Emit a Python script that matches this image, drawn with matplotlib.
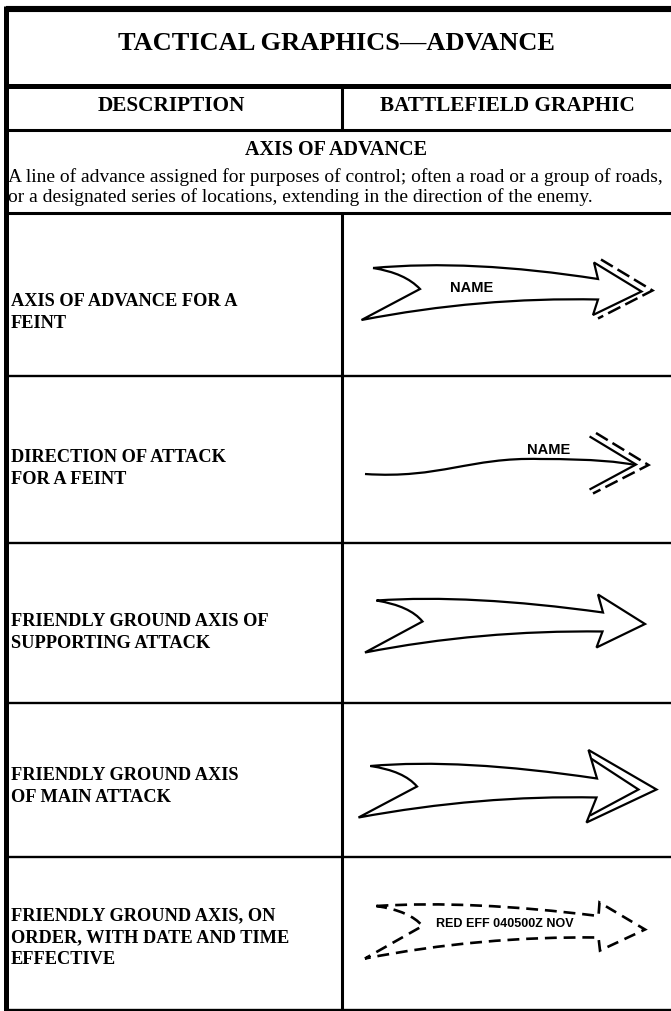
import matplotlib
matplotlib.use("Agg")
import matplotlib.pyplot as plt
from matplotlib.path import Path
from matplotlib.patches import PathPatch

# ---- text content ----
title = "TACTICAL GRAPHICS\u2014ADVANCE"
headers = ["DESCRIPTION", "BATTLEFIELD GRAPHIC"]
section = "AXIS OF ADVANCE"
section_text = [
    "A line of advance assigned for purposes of control; often a road or a group of roads,",
    "or a designated series of locations, extending in the direction of the enemy.",
]
row_labels = [
    ["AXIS OF ADVANCE FOR A", "FEINT"],
    ["DIRECTION OF ATTACK", "FOR A FEINT"],
    ["FRIENDLY GROUND AXIS OF", "SUPPORTING ATTACK"],
    ["FRIENDLY GROUND AXIS", "OF MAIN ATTACK"],
    ["FRIENDLY GROUND AXIS, ON", "ORDER, WITH DATE AND TIME", "EFFECTIVE"],
]
graphic_labels = ["NAME", "NAME", "", "", "RED EFF 040500Z NOV"]

# row boundaries (pixels from top)
row_edges = [213, 376, 543, 703, 857, 1010]

SERIF = ["Liberation Serif", "DejaVu Serif"]
NARROW = ["Liberation Sans Narrow", "Liberation Sans", "DejaVu Sans"]

fig = plt.figure(figsize=(6.71, 10.11), dpi=100)
ax = fig.add_axes([0, 0, 1, 1])
ax.set_xlim(0, 671)
ax.set_ylim(1011, 0)
ax.axis("off")

DIV_X = 341.5

# ---- frame ----
ax.plot([5.5, 671], [9, 9], color="black", lw=4.4, solid_capstyle="butt")
ax.plot([5.5, 5.5], [6, 1011], color="black", lw=3.6, solid_capstyle="butt")
ax.plot([5.5, 671], [85.5, 85.5], color="black", lw=3.6, solid_capstyle="butt")
ax.plot([5.5, 671], [129.5, 129.5], color="black", lw=2.2, solid_capstyle="butt")
ax.plot([5.5, 671], [213, 213], color="black", lw=2.2, solid_capstyle="butt")
ax.plot([DIV_X, DIV_X], [86, 129], color="black", lw=2.2, solid_capstyle="butt")
ax.plot([DIV_X, DIV_X], [213, 1011], color="black", lw=2.2, solid_capstyle="butt")
for y in row_edges[1:]:
    ax.plot([5.5, 671], [y, y], color="black", lw=1.7, solid_capstyle="butt")

# ---- header texts ----
ax.text(336, 44, title, family=SERIF, weight="bold", fontsize=19,
        ha="center", va="center")
ax.text(171, 106, headers[0], family=SERIF, weight="bold", fontsize=15.3,
        ha="center", va="center")
ax.text(507, 106, headers[1], family=SERIF, weight="bold", fontsize=15.3,
        ha="center", va="center")
ax.text(336, 150, section, family=SERIF, weight="bold", fontsize=14.5,
        ha="center", va="center")
for i, line in enumerate(section_text):
    ax.text(8, 182 + 20 * i, line, family=SERIF, fontsize=14,
            ha="left", va="baseline")

# ---- row labels ----
label_centers = [312, 468, 632, 787, 938]
for lines, yc in zip(row_labels, label_centers):
    n = len(lines)
    for i, line in enumerate(lines):
        y = yc + (i - (n - 1) / 2) * 22
        ax.text(11, y, line, family=SERIF, weight="bold", fontsize=13.2,
                ha="left", va="center")


def arrow_outline(top, top_c, inner_top, barb_top, tip, barb_bot, inner_bot,
                  bot_c, tail_bot, notch, notch_c):
    verts = [top, top_c, inner_top, barb_top, tip, barb_bot, inner_bot,
             bot_c, tail_bot, notch, notch_c, top]
    codes = [Path.MOVETO, Path.CURVE3, Path.CURVE3, Path.LINETO, Path.LINETO,
             Path.LINETO, Path.LINETO, Path.CURVE3, Path.CURVE3, Path.LINETO,
             Path.CURVE3, Path.CURVE3]
    return Path(verts, codes)


def add_path(verts, codes, **kw):
    ax.add_patch(PathPatch(Path(verts, codes), fill=False, **kw))


# row 1: axis of advance for a feint
p = arrow_outline((373, 268), (470, 259), (598, 279), (594, 262.5), (641.5, 291.5),
                  (593, 315), (598, 299.5), (480, 297), (361.5, 320), (420, 289),
                  (405, 273))
ax.add_patch(PathPatch(p, fill=False, lw=1.6, joinstyle="miter"))
ax.plot([601, 652.5, 598], [259.5, 290.5, 318.5], color="black", lw=1.8,
        ls=(0, (5.5, 2.2)), solid_joinstyle="miter", dash_joinstyle="miter")
ax.text(472, 288, graphic_labels[0], family=NARROW, weight="bold", fontsize=10.5,
        ha="center", va="center")

# row 2: direction of attack for a feint
add_path([(365, 474), (440, 479), (470, 457), (540, 459), (595, 459), (620, 462), (635, 465)],
         [Path.MOVETO, Path.CURVE4, Path.CURVE4, Path.CURVE4, Path.CURVE4, Path.CURVE4, Path.CURVE4],
         lw=1.6)
ax.plot([590.5, 636, 590.5], [437, 464.5, 489], color="black", lw=1.6,
        solid_joinstyle="miter")
ax.plot([596, 648.5, 593], [433, 465, 493.5], color="black", lw=1.8,
        ls=(0, (5.5, 2.2)), dash_joinstyle="miter")
ax.text(549, 450, graphic_labels[1], family=NARROW, weight="bold", fontsize=10.5,
        ha="center", va="center")

# row 3: friendly ground axis of supporting attack
p = arrow_outline((376.5, 600.5), (470, 594), (603, 612.5), (598, 594.5), (645, 624),
                  (596.5, 647.5), (602.5, 631.5), (480, 630), (365, 652.5), (422.5, 621.5),
                  (410, 606))
ax.add_patch(PathPatch(p, fill=False, lw=1.6, joinstyle="miter"))

# row 4: friendly ground axis of main attack
p = arrow_outline((370.5, 766), (460, 758), (597, 778.5), (588.5, 750), (656.5, 789.5),
                  (586.5, 822.5), (596.5, 797.5), (480, 795), (358.5, 817.5), (417, 786.5),
                  (404, 771))
ax.add_patch(PathPatch(p, fill=False, lw=1.6, joinstyle="miter"))
ax.plot([592.5, 638.5, 591], [759.5, 789.5, 815], color="black", lw=1.6,
        solid_joinstyle="miter")

# row 5: on order, dashed
p = arrow_outline((376.5, 906), (470, 900), (598.5, 916), (599.5, 902.5), (645, 929.5),
                  (600, 950.5), (598.5, 937.5), (480, 936), (365, 958.5), (422.5, 926),
                  (410, 911))
ax.add_patch(PathPatch(p, fill=False, lw=1.9, ls=(0, (4.5, 2.6)), joinstyle="miter"))
ax.text(505, 924, graphic_labels[4], family=NARROW, weight="bold", fontsize=9,
        ha="center", va="center")

fig.savefig("out.png", dpi=100)
